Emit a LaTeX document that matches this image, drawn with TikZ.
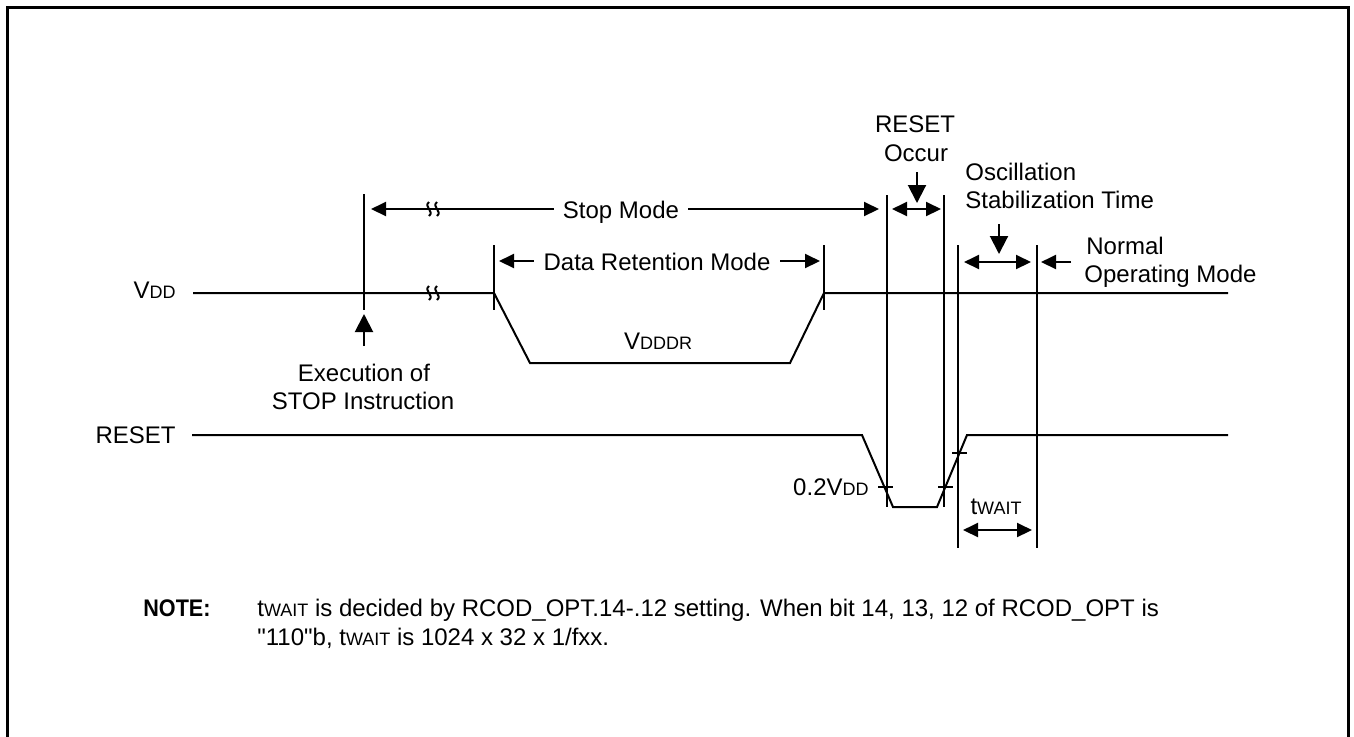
\documentclass[tikz,border=0pt]{standalone}
\usepackage{fontspec}
\setmainfont{Liberation Sans}[Ligatures=TeXOff]
\usetikzlibrary{arrows.meta}
\newcommand{\smcp}[1]{{\fontsize{9}{10}\selectfont #1}}
\begin{document}
\begin{tikzpicture}[x=0.5pt,y=-0.5pt,
  wire/.style={line width=1pt},
  dimarr/.style={line width=1pt,{Triangle[length=7.5pt,width=7pt]}-{Triangle[length=7.5pt,width=7pt]}},
  onearr/.style={line width=1pt,-{Triangle[length=7.5pt,width=7pt]}},
  ptr/.style={line width=1pt,-{Triangle[length=9pt,width=9pt]}},
  lbl/.style={font=\fontsize{12}{14}\selectfont,inner sep=0pt},
  gaplbl/.style={lbl,fill=white,inner xsep=5pt,inner ysep=3pt},
  brk/.pic={
    \draw[line width=1pt] (-4,-7) .. controls (-10,-2) and (2,2) .. (-4,7);
    \draw[line width=1pt] (4,-7) .. controls (-2,-2) and (10,2) .. (4,7);
  }
]
\useasboundingbox (0,0) rectangle (1354,736);
% frame
\draw[line width=1.5pt] (7,760) -- (7,7) -- (1348,7) -- (1348,760);

% VDD waveform
\coordinate (vddS) at (193,293);
\coordinate (vddA) at (494,293);
\coordinate (vddB) at (530,363);
\coordinate (vddC) at (790,363);
\coordinate (vddD) at (824,293);
\coordinate (vddE) at (1228,293);
\draw[wire] (vddS) -- (vddA) -- (vddB) -- (vddC) -- (vddD) -- (vddE);

% RESET waveform
\coordinate (rsS) at (192,435);
\coordinate (rsA) at (862,435);
\coordinate (rsB) at (893,507);
\coordinate (rsC) at (937,507);
\coordinate (rsD) at (967,435);
\coordinate (rsE) at (1228,435);
\draw[wire] (rsS) -- (rsA) -- (rsB) -- (rsC) -- (rsD) -- (rsE);

% vertical markers
\coordinate (m1a) at (364,194);  \coordinate (m1b) at (364,310);
\coordinate (m2a) at (494,245);  \coordinate (m2b) at (494,310);
\coordinate (m3a) at (824,245);  \coordinate (m3b) at (824,310);
\coordinate (m4a) at (887,195);  \coordinate (m4b) at (887,507);
\coordinate (m5a) at (944,195);  \coordinate (m5b) at (944,507);
\coordinate (m6a) at (958,245);  \coordinate (m6b) at (958,548);
\coordinate (m7a) at (1037,245); \coordinate (m7b) at (1037,548);
\foreach \m in {m1,m2,m3,m4,m5,m6,m7} \draw[wire] (\m a) -- (\m b);

% ticks at 0.2VDD
\coordinate (tk1a) at (878,487); \coordinate (tk1b) at (893,487);
\coordinate (tk2a) at (938,487); \coordinate (tk2b) at (953,487);
\coordinate (tk3a) at (952,453); \coordinate (tk3b) at (967,453);
\foreach \t in {tk1,tk2,tk3} \draw[wire] (\t a) -- (\t b);

% Stop Mode
\coordinate (sm1) at (371,209); \coordinate (sm2) at (879,209);
\draw[dimarr] (sm1) -- (sm2);
\node[gaplbl,anchor=base,inner xsep=4.5pt] (smlbl) at (621,218) {Stop Mode};
\pic at (433,209) {brk};
\pic at (433,293) {brk};

% Data Retention Mode
\coordinate (dr1) at (499,261); \coordinate (dr2) at (820,261);
\draw[dimarr] (dr1) -- (dr2);
\node[gaplbl,anchor=base] (drlbl) at (657,270) {Data Retention Mode};

% RESET occur
\coordinate (ro1) at (892,209); \coordinate (ro2) at (941,209);
\draw[dimarr] (ro1) -- (ro2);
\coordinate (rop1) at (917,172); \coordinate (rop2) at (917,203);
\draw[ptr] (rop1) -- (rop2);
\node[lbl,anchor=base] (rolbl1) at (915,132) {RESET};
\node[lbl,anchor=base] (rolbl2) at (916,161) {Occur};

% Oscillation stabilization
\coordinate (os1) at (964,262); \coordinate (os2) at (1031,262);
\draw[dimarr] (os1) -- (os2);
\coordinate (osp1) at (999,224); \coordinate (osp2) at (999,254);
\draw[ptr] (osp1) -- (osp2);
\node[lbl,anchor=base west] (oslbl1) at (965,180) {Oscillation};
\node[lbl,anchor=base west] (oslbl2) at (965,208) {Stabilization Time};

% Normal operating mode
\coordinate (nm1) at (1071,262); \coordinate (nm2) at (1041,262);
\draw[onearr] (nm1) -- (nm2);
\node[lbl,anchor=base west] (nmlbl1) at (1086,254) {Normal};
\node[lbl,anchor=base west] (nmlbl2) at (1084,282) {Operating Mode};

% tWAIT
\coordinate (tw1) at (963,530); \coordinate (tw2) at (1032,530);
\draw[dimarr] (tw1) -- (tw2);
\node[lbl,anchor=base] (twlbl) at (996,514) {t\smcp{WAIT}};

% Execution of STOP
\coordinate (ex1) at (364,346); \coordinate (ex2) at (364,314);
\draw[ptr] (ex1) -- (ex2);
\node[lbl,anchor=base] (exlbl1) at (364,381) {Execution of};
\node[lbl,anchor=base] (exlbl2) at (363,409) {STOP Instruction};

% signal labels
\node[lbl,anchor=base east] (vddlbl) at (176,298) {V\smcp{DD}};
\node[lbl,anchor=base east] (rstlbl) at (176,443) {RESET};
\node[lbl,anchor=base] (vddrlbl) at (658,349) {V\smcp{DDDR}};
\node[lbl,anchor=base east] (lvl) at (869,495) {0.2V\smcp{DD}};

% note
\node[lbl,anchor=base west] (notehd) at (143,616) {\addfontfeature{FakeStretch=0.9}\textbf{NOTE:}};
\node[lbl,anchor=base west] (note1) at (257,616) {t\smcp{WAIT} is decided by RCOD\_OPT.14-.12 setting. When bit 14, 13, 12 of RCOD\_OPT is};
\node[lbl,anchor=base west] (note2) at (257,645) {"110"b, t\smcp{WAIT} is 1024 x 32 x 1/fxx.};
\end{tikzpicture}
\end{document}
